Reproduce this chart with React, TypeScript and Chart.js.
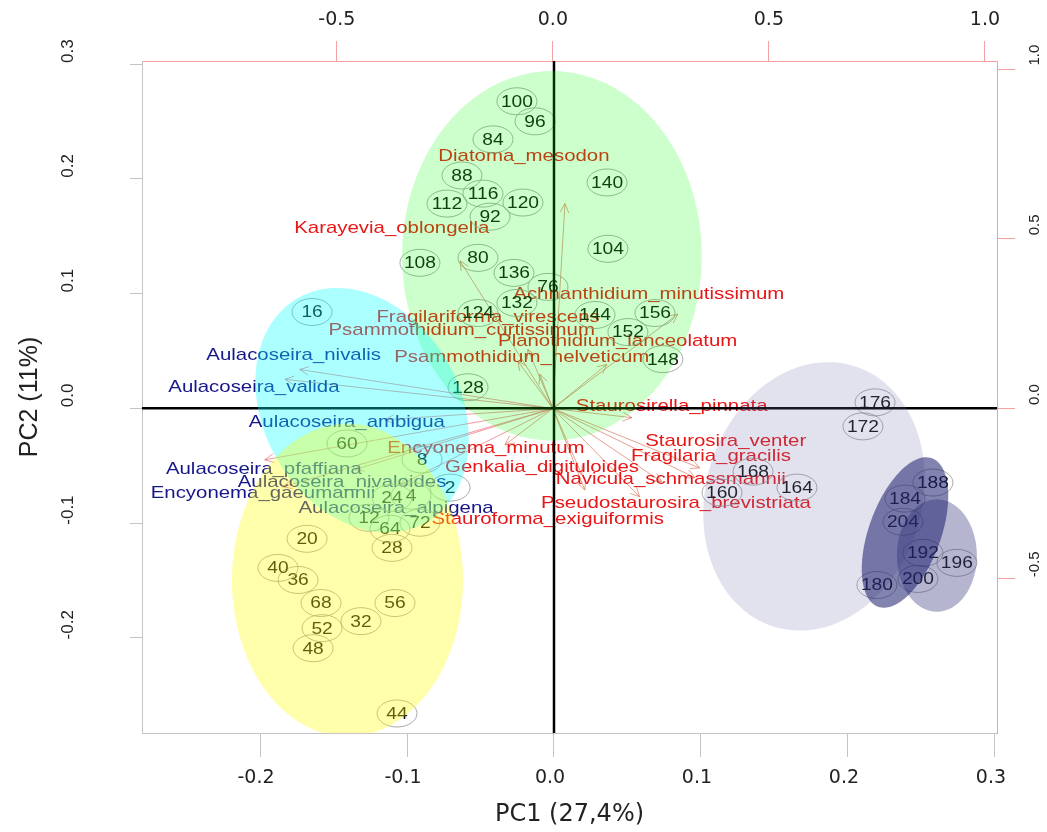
import { useEffect, useRef } from "react";
import { Chart, registerables } from "chart.js";

Chart.register(...registerables);

// ---- sample scores (PC1 / PC2) ----
const sampleLabels = [
  "2", "4", "8", "12", "16", "20", "24", "28", "32", "36", "40", "44", "48", "52", "56", "60", "64", "68", "72",
  "76", "80", "84", "88", "92", "96", "100", "104", "108", "112", "116", "120", "124", "128", "132", "136", "140",
  "144", "148", "152", "156", "160", "164", "168", "172", "176", "180", "184", "188", "192", "196", "200", "204",
];
const pc1Scores = [
  -0.0707, -0.0973, -0.0898, -0.1259, -0.1646, -0.168, -0.1102, -0.1102, -0.1313, -0.1741, -0.1878, -0.1068, -0.1639,
  -0.1578, -0.1082, -0.1408, -0.1116, -0.1585, -0.0912, -0.0041, -0.0517, -0.0415, -0.0626, -0.0435, -0.0129, -0.0252,
  0.0367, -0.0912, -0.0728, -0.0483, -0.0211, -0.0517, -0.0585, -0.0252, -0.0272, 0.0361, 0.0279, 0.0741, 0.0503,
  0.0687, 0.1143, 0.1653, 0.1354, 0.2102, 0.2184, 0.2197, 0.2388, 0.2578, 0.251, 0.2741, 0.2476, 0.2374,
];
const pc2Scores = [
  -0.0691, -0.0761, -0.0446, -0.0954, 0.084, -0.1137, -0.0779, -0.1216, -0.1855, -0.1496, -0.1391, -0.266, -0.2091,
  -0.1916, -0.1697, -0.0306, -0.105, -0.1697, -0.0997, 0.1059, 0.1312, 0.2345, 0.203, 0.1671, 0.2502, 0.2677, 0.1391,
  0.1269, 0.1785, 0.1872, 0.1794, 0.0831, 0.0184, 0.0919, 0.1181, 0.1969, 0.0814, 0.0429, 0.0665, 0.0831, -0.0735,
  -0.0691, -0.0551, -0.0157, 0.0052, -0.154, -0.0787, -0.0647, -0.126, -0.1347, -0.1487, -0.0989,
];

// ---- species loadings (secondary axes) ----
const speciesNames = [
  "Diatoma_mesodon", "Karayevia_oblongella", "Achnanthidium_minutissimum", "Fragilariforma_virescens",
  "Psammothidium_curtissimum", "Planothidium_lanceolatum", "Psammothidium_helveticum", "Staurosirella_pinnata",
  "Staurosira_venter", "Fragilaria_gracilis", "Navicula_schmassmannii", "Pseudostaurosira_brevistriata",
  "Stauroforma_exiguiformis", "Encyonema_minutum", "Genkalia_digituloides", "Aulacoseira_nivalis",
  "Aulacoseira_valida", "Aulacoseira_ambigua", "Aulacoseira_pfaffiana", "Aulacoseira_nivaloides",
  "Encyonema_gaeumannii", "Aulacoseira_alpigena",
];
const loadingX = [
  0.028, -0.215, 0.289, -0.058, -0.081, 0.125, -0.03, 0.183, 0.34, 0.329, 0.252, 0.201, 0.074, -0.111, 0.067,
  -0.586, -0.62, -0.389, -0.667, -0.458, -0.625, -0.354,
];
const loadingY = [
  0.604, 0.435, 0.278, 0.175, 0.139, 0.13, 0.101, -0.027, -0.175, -0.204, -0.216, -0.26, -0.24, -0.107, -0.195,
  0.115, 0.086, -0.033, -0.151, -0.18, -0.231, -0.225,
];
const labelX = [
  -0.067, -0.373, 0.222, -0.15, -0.211, 0.15, -0.072, 0.275, 0.4, 0.366, 0.273, 0.285, -0.012, -0.155, -0.025,
  -0.6, -0.692, -0.477, -0.669, -0.488, -0.671, -0.363,
];
const labelY = [
  0.743, 0.53, 0.337, 0.269, 0.231, 0.198, 0.151, 0.006, -0.098, -0.142, -0.21, -0.278, -0.325, -0.118, -0.172,
  0.157, 0.062, -0.041, -0.178, -0.216, -0.251, -0.293,
];
const speciesKind = [
  "r", "r", "r", "r", "r", "r", "r", "r", "r", "r", "r", "r", "r", "r", "r",
  "b", "b", "b", "b", "b", "b", "b",
];

// ---- group ellipses (data units: centre + two conjugate semi-axis vectors) ----
const groupCx = [-0.0014, -0.1306, -0.1405, 0.1769, 0.2605, 0.2388];
const groupCy = [0.133, -0.0016, -0.1497, -0.0767, -0.1283, -0.1082];
const groupUx = [0.102, 0.0439, 0.0786, 0.0271, 0.0272, 0.01837];
const groupUy = [0, -0.0976, 0, 0.1137, 0, 0.0647];
const groupVx = [0, 0.0578, 0, 0.0703, 0, 0.023];
const groupVy = [0.161, 0.0428, 0.1364, -0.0276, 0.049, -0.01075];
const groupFill = [
  "rgba(0,255,0,0.2)",
  "rgba(0,255,255,0.33)",
  "rgba(255,255,0,0.33)",
  "rgba(110,110,170,0.2)",
  "rgba(60,60,130,0.38)",
  "rgba(30,30,110,0.55)",
];

// ---- tick values ----
const pc1Ticks = [-0.2, -0.1, 0, 0.1, 0.2, 0.3];
const pc2Ticks = [-0.2, -0.1, 0, 0.1, 0.2, 0.3];
const loadXTicks = [-0.5, 0, 0.5, 1.0];
const loadYTicks = [-0.5, 0, 0.5, 1.0];

const STRETCH = 1.2;

function stretchedText(ctx: CanvasRenderingContext2D, text: string, x: number, y: number) {
  ctx.save();
  ctx.translate(x, y);
  ctx.scale(STRETCH, 1);
  ctx.fillText(text, 0, 0);
  ctx.restore();
}

const biplotPlugin = {
  id: "biplot",
  afterDatasetsDraw(chart: any) {
    const { ctx, chartArea, scales } = chart;
    const xs = scales.x, ys = scales.y, x2 = scales.x2, y2 = scales.y2;
    ctx.save();
    ctx.beginPath();
    ctx.rect(chartArea.left, chartArea.top, chartArea.right - chartArea.left, chartArea.bottom - chartArea.top);
    ctx.clip();

    // arrows
    const tipMeta = chart.getDatasetMeta(1).data;
    const ox = x2.getPixelForValue(0), oy = y2.getPixelForValue(0);
    ctx.lineWidth = 1;
    tipMeta.forEach((el: any, i: number) => {
      const tx = el.x, ty = el.y;
      ctx.strokeStyle = speciesKind[i] === "r" ? "rgba(220,120,100,0.7)" : "rgba(235,110,120,0.7)";
      ctx.beginPath();
      ctx.moveTo(ox, oy);
      ctx.lineTo(tx, ty);
      const ang = Math.atan2(ty - oy, tx - ox);
      const hl = 10, ha = Math.PI / 7;
      ctx.moveTo(tx, ty);
      ctx.lineTo(tx - hl * Math.cos(ang - ha), ty - hl * Math.sin(ang - ha));
      ctx.moveTo(tx, ty);
      ctx.lineTo(tx - hl * Math.cos(ang + ha), ty - hl * Math.sin(ang + ha));
      ctx.stroke();
    });

    // species labels
    const labMeta = chart.getDatasetMeta(2).data;
    ctx.font = '17px "Liberation Sans", Arial, sans-serif';
    ctx.textAlign = "center";
    ctx.textBaseline = "middle";
    labMeta.forEach((el: any, i: number) => {
      ctx.fillStyle = speciesKind[i] === "r" ? "rgb(232,22,22)" : "rgb(22,22,140)";
      stretchedText(ctx, speciesNames[i], el.x, el.y);
    });

    // sample labels with small ellipses
    const smpMeta = chart.getDatasetMeta(0).data;
    ctx.font = '16px "Liberation Sans", Arial, sans-serif';
    smpMeta.forEach((el: any, i: number) => {
      ctx.strokeStyle = "rgba(150,150,150,0.8)";
      ctx.lineWidth = 1;
      ctx.beginPath();
      ctx.ellipse(el.x, el.y, 20, 13.5, 0, 0, Math.PI * 2);
      ctx.stroke();
      ctx.fillStyle = "#111";
      stretchedText(ctx, sampleLabels[i], el.x, el.y + 1);
    });

    // zero lines
    const zx = xs.getPixelForValue(0), zy = ys.getPixelForValue(0);
    ctx.strokeStyle = "#000";
    ctx.lineWidth = 2.5;
    ctx.beginPath();
    ctx.moveTo(chartArea.left, zy);
    ctx.lineTo(chartArea.right, zy);
    ctx.moveTo(zx, chartArea.top);
    ctx.lineTo(zx, chartArea.bottom);
    ctx.stroke();

    // group ellipses (translucent, on top)
    for (let g = 0; g < groupCx.length; g++) {
      ctx.beginPath();
      for (let k = 0; k <= 120; k++) {
        const t = (k / 120) * Math.PI * 2;
        const dx = groupCx[g] + Math.cos(t) * groupUx[g] + Math.sin(t) * groupVx[g];
        const dy = groupCy[g] + Math.cos(t) * groupUy[g] + Math.sin(t) * groupVy[g];
        const px = xs.getPixelForValue(dx), py = ys.getPixelForValue(dy);
        if (k === 0) ctx.moveTo(px, py);
        else ctx.lineTo(px, py);
      }
      ctx.closePath();
      ctx.fillStyle = groupFill[g];
      ctx.fill();
    }
    ctx.restore();
  },
};

const fmt = (v: any) => Number(v).toFixed(1);
const setTicks = (vals: number[]) => (s: any) => {
  s.ticks = vals.map((v) => ({ value: v }));
};

export default function App() {
  const ref = useRef<HTMLCanvasElement | null>(null);
  useEffect(() => {
    if (!ref.current) return;
    const gray = "#c4c4c4";
    const pink = "#f2a0a0";
    const chart = new Chart(ref.current, {
      type: "scatter",
      data: {
        datasets: [
          {
            label: "samples",
            data: pc1Scores.map((x, i) => ({ x, y: pc2Scores[i] })),
            xAxisID: "x",
            yAxisID: "y",
            pointRadius: 0,
          },
          {
            label: "loadings",
            data: loadingX.map((x, i) => ({ x, y: loadingY[i] })),
            xAxisID: "x2",
            yAxisID: "y2",
            pointRadius: 0,
          },
          {
            label: "species labels",
            data: labelX.map((x, i) => ({ x, y: labelY[i] })),
            xAxisID: "x2",
            yAxisID: "y2",
            pointRadius: 0,
          },
        ],
      },
      options: {
        animation: false,
        responsive: false,
        layout: { padding: 0 },
        plugins: { legend: { display: false }, tooltip: { enabled: false } },
        scales: {
          x: {
            type: "linear",
            position: "bottom",
            min: -0.2803,
            max: 0.3014,
            afterBuildTicks: setTicks(pc1Ticks),
            afterFit: (s: any) => { s.height = 99; },
            ticks: {
              callback: fmt,
              autoSkip: false,
              maxRotation: 0,
              padding: 10,
              labelOffset: -4,
              color: "#222",
              font: { family: '"DejaVu Sans", sans-serif', size: 19 },
            },
            grid: { drawOnChartArea: false, drawTicks: true, tickLength: 24, color: gray },
            border: { color: gray, width: 1 },
            title: {
              display: true,
              text: "PC1 (27,4%)",
              color: "#222",
              font: { family: '"DejaVu Sans", sans-serif', size: 24 },
              padding: { top: 0, bottom: 3 },
            },
          },
          x2: {
            type: "linear",
            axis: "x",
            position: "top",
            min: -0.951,
            max: 1.028,
            afterBuildTicks: setTicks(loadXTicks),
            afterFit: (s: any) => { s.height = 61; },
            ticks: {
              callback: fmt,
              autoSkip: false,
              maxRotation: 0,
              padding: 10,
              color: "#222",
              font: { family: '"DejaVu Sans", sans-serif', size: 19 },
            },
            grid: { drawOnChartArea: false, drawTicks: true, tickLength: 20, color: pink },
            border: { color: pink, width: 1 },
          },
          y: {
            type: "linear",
            position: "left",
            min: -0.283,
            max: 0.3028,
            afterBuildTicks: setTicks(pc2Ticks),
            afterFit: (s: any) => { s.width = 142; },
            ticks: {
              callback: fmt,
              autoSkip: false,
              minRotation: 90,
              maxRotation: 90,
              crossAlign: "center",
              padding: 47,
              labelOffset: -13,
              color: "#222",
              font: { family: '"Liberation Sans", Arial, sans-serif', size: 17 },
            },
            grid: { drawOnChartArea: false, drawTicks: true, tickLength: 12, color: gray },
            border: { color: gray, width: 1 },
            title: {
              display: true,
              text: "PC2 (11%)",
              color: "#222",
              font: { family: '"Liberation Sans", Arial, sans-serif', size: 25 },
              padding: { top: 15, bottom: 0 },
            },
          },
          y2: {
            type: "linear",
            axis: "y",
            position: "right",
            min: -0.956,
            max: 1.024,
            afterBuildTicks: setTicks(loadYTicks),
            afterFit: (s: any) => { s.width = 50; },
            ticks: {
              callback: fmt,
              autoSkip: false,
              minRotation: 90,
              maxRotation: 90,
              crossAlign: "center",
              padding: 7,
              labelOffset: -14,
              color: "#222",
              font: { family: '"Liberation Sans", Arial, sans-serif', size: 15 },
            },
            grid: { drawOnChartArea: false, drawTicks: true, tickLength: 18, color: pink },
            border: { color: pink, width: 1 },
          },
        },
      } as any,
      plugins: [biplotPlugin],
    });
    return () => chart.destroy();
  }, []);

  return (
    <div style={{ position: "absolute", left: 0, top: 0, width: 1047, height: 832, background: "#fff" }}>
      <canvas ref={ref} width={1047} height={832} style={{ display: "block" }} />
    </div>
  );
}
